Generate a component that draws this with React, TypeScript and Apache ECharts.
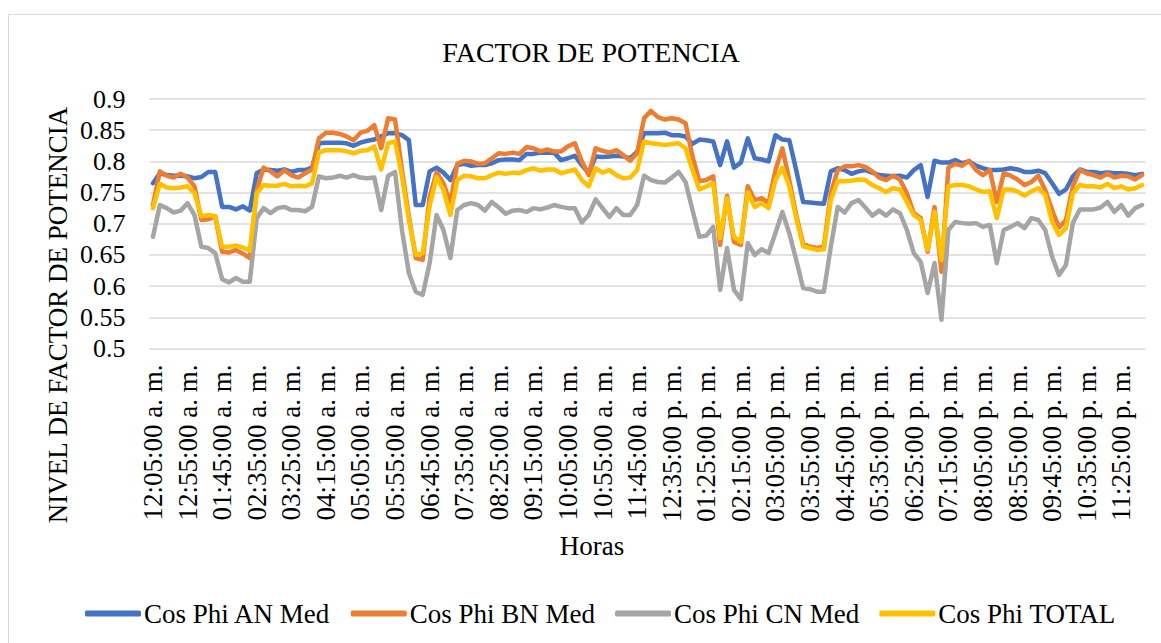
import React, { useEffect, useRef } from "react";
import * as echarts from "echarts";

// 10-minute readings, 12:05 a. m. .. 11:55 p. m.
const hours: string[] = [];
for (let i = 0; i < 144; i++) {
  const t = 5 + i * 10;
  const h = Math.floor(t / 60);
  const m = t % 60;
  const h12 = h % 12 === 0 ? 12 : h % 12;
  const pad = (n: number) => (n < 10 ? "0" + n : "" + n);
  hours.push(`${pad(h12)}:${pad(m)}:00 ${h < 12 ? "a. m." : "p. m."}`);
}

const cosPhiAN = [
  0.765, 0.781, 0.778, 0.777, 0.777, 0.776, 0.773, 0.775, 0.783, 0.783,
  0.727, 0.727, 0.723, 0.728, 0.721, 0.781, 0.787, 0.786, 0.785, 0.787,
  0.783, 0.786, 0.786, 0.79, 0.829, 0.83, 0.83, 0.83, 0.829, 0.825,
  0.83, 0.833, 0.835, 0.84, 0.845, 0.845, 0.842, 0.834, 0.73, 0.73,
  0.784, 0.79, 0.782, 0.77, 0.794, 0.796, 0.793, 0.794, 0.794, 0.797,
  0.802, 0.803, 0.803, 0.802, 0.812, 0.812, 0.814, 0.814, 0.814, 0.802,
  0.805, 0.809, 0.794, 0.781, 0.808, 0.807, 0.808, 0.809, 0.808, 0.805,
  0.815, 0.845, 0.845, 0.845, 0.846, 0.842, 0.842, 0.84, 0.828, 0.835,
  0.834, 0.832, 0.794, 0.832, 0.79, 0.798, 0.837, 0.805, 0.803, 0.8,
  0.842, 0.835, 0.834, 0.786, 0.735, 0.734, 0.733, 0.732, 0.784, 0.789,
  0.786, 0.78, 0.784, 0.786, 0.782, 0.778, 0.777, 0.776, 0.777, 0.774,
  0.786, 0.794, 0.743, 0.801, 0.798, 0.798, 0.802, 0.797, 0.8, 0.793,
  0.789, 0.786, 0.786, 0.787, 0.789, 0.787, 0.783, 0.783, 0.785, 0.781,
  0.765, 0.748, 0.755, 0.776, 0.787, 0.783, 0.783, 0.781, 0.782, 0.781,
  0.781, 0.78, 0.778, 0.78,
];

const cosPhiBN = [
  0.73, 0.784, 0.777, 0.774, 0.78, 0.774, 0.76, 0.706, 0.707, 0.712,
  0.655, 0.654, 0.658, 0.652, 0.645, 0.754, 0.79, 0.784, 0.776, 0.786,
  0.778, 0.774, 0.781, 0.787, 0.837, 0.846, 0.846, 0.844, 0.84, 0.834,
  0.846, 0.849, 0.858, 0.821, 0.869, 0.867, 0.786, 0.712, 0.645, 0.642,
  0.743, 0.782, 0.765, 0.733, 0.796, 0.801, 0.8, 0.796, 0.797, 0.805,
  0.813, 0.812, 0.814, 0.812, 0.823, 0.821, 0.816, 0.819, 0.816, 0.816,
  0.824, 0.829, 0.8, 0.778, 0.821, 0.817, 0.814, 0.818, 0.81, 0.801,
  0.813, 0.869, 0.881, 0.871, 0.867, 0.869, 0.867, 0.861, 0.808, 0.768,
  0.77, 0.776, 0.666, 0.745, 0.671, 0.666, 0.76, 0.738, 0.741, 0.733,
  0.786, 0.821, 0.77, 0.714, 0.668, 0.663, 0.661, 0.663, 0.749, 0.786,
  0.792, 0.792, 0.794, 0.791, 0.784, 0.774, 0.77, 0.777, 0.771, 0.749,
  0.717, 0.709, 0.655, 0.727, 0.623, 0.79, 0.796, 0.793, 0.801, 0.786,
  0.778, 0.786, 0.735, 0.781, 0.777, 0.771, 0.762, 0.767, 0.777, 0.754,
  0.722, 0.694, 0.706, 0.76, 0.786, 0.781, 0.778, 0.774, 0.78, 0.774,
  0.777, 0.776, 0.771, 0.778,
];

const cosPhiCN = [
  0.679, 0.73, 0.725, 0.718, 0.721, 0.733, 0.714, 0.663, 0.661, 0.653,
  0.611, 0.606, 0.613, 0.607, 0.607, 0.709, 0.725, 0.717, 0.725, 0.727,
  0.722, 0.722, 0.72, 0.727, 0.776, 0.773, 0.774, 0.777, 0.774, 0.778,
  0.774, 0.773, 0.774, 0.722, 0.777, 0.783, 0.69, 0.621, 0.591, 0.586,
  0.637, 0.714, 0.69, 0.645, 0.722, 0.73, 0.733, 0.73, 0.721, 0.735,
  0.726, 0.716, 0.721, 0.722, 0.719, 0.725, 0.723, 0.726, 0.73, 0.727,
  0.725, 0.725, 0.702, 0.714, 0.739, 0.725, 0.711, 0.725, 0.714, 0.714,
  0.73, 0.777, 0.77, 0.767, 0.766, 0.774, 0.783, 0.767, 0.722, 0.679,
  0.681, 0.695, 0.594, 0.661, 0.594, 0.579, 0.669, 0.65, 0.659, 0.653,
  0.685, 0.719, 0.685, 0.642, 0.597, 0.595, 0.591, 0.591, 0.663, 0.727,
  0.718, 0.733, 0.738, 0.726, 0.713, 0.721, 0.713, 0.723, 0.717, 0.69,
  0.653, 0.639, 0.589, 0.637, 0.546, 0.69, 0.703, 0.701, 0.7, 0.701,
  0.695, 0.698, 0.637, 0.69, 0.695, 0.701, 0.693, 0.709, 0.706, 0.69,
  0.647, 0.618, 0.634, 0.701, 0.723, 0.723, 0.723, 0.726, 0.735, 0.719,
  0.73, 0.713, 0.725, 0.73,
];

const cosPhiTotal = [
  0.725, 0.764, 0.758, 0.757, 0.758, 0.76, 0.749, 0.712, 0.714, 0.712,
  0.663, 0.663, 0.665, 0.662, 0.657, 0.749, 0.762, 0.761, 0.761, 0.764,
  0.76, 0.761, 0.76, 0.765, 0.814, 0.818, 0.818, 0.818, 0.816, 0.813,
  0.817, 0.818, 0.824, 0.787, 0.829, 0.832, 0.776, 0.706, 0.65, 0.653,
  0.728, 0.775, 0.754, 0.714, 0.77, 0.777, 0.776, 0.773, 0.773, 0.778,
  0.782, 0.78, 0.782, 0.781, 0.786, 0.789, 0.785, 0.787, 0.787, 0.781,
  0.784, 0.787, 0.77, 0.76, 0.789, 0.782, 0.786, 0.778, 0.773, 0.774,
  0.786, 0.832, 0.829, 0.828, 0.826, 0.828, 0.829, 0.821, 0.786, 0.755,
  0.76, 0.765, 0.677, 0.741, 0.679, 0.671, 0.751, 0.727, 0.733, 0.725,
  0.77, 0.79, 0.76, 0.709, 0.664, 0.661, 0.658, 0.659, 0.738, 0.768,
  0.768, 0.769, 0.771, 0.77, 0.762, 0.757, 0.751, 0.757, 0.755, 0.735,
  0.714, 0.706, 0.658, 0.719, 0.642, 0.76, 0.762, 0.762, 0.76, 0.755,
  0.751, 0.752, 0.709, 0.755, 0.755, 0.752, 0.745, 0.752, 0.757, 0.746,
  0.703, 0.682, 0.693, 0.749, 0.762, 0.76, 0.76, 0.758, 0.764, 0.757,
  0.76, 0.755, 0.757, 0.762,
];

const seriesNames = ["Cos Phi AN Med", "Cos Phi BN Med", "Cos Phi CN Med", "Cos Phi TOTAL"];
const seriesColors = ["#4472C4", "#ED7D31", "#A5A5A5", "#FFC000"];
const seriesData = [cosPhiAN, cosPhiBN, cosPhiCN, cosPhiTotal];

const FONT = '"Liberation Serif", "Times New Roman", serif';

export default function App() {
  const ref = useRef<HTMLDivElement>(null);
  useEffect(() => {
    if (!ref.current) return;
    const chart = echarts.init(ref.current, undefined, { renderer: "svg" });
    chart.setOption({
      animation: false,
      backgroundColor: "#ffffff",
      textStyle: { fontFamily: FONT },
      grid: { left: 149.5, right: 15.5, top: 99, bottom: 294.5, containLabel: false },
      graphic: [
        {
          type: "rect",
          shape: { x: 8.5, y: 14.5, width: 1300, height: 700 },
          style: { fill: "none", stroke: "#d9d9d9", lineWidth: 1 },
          silent: true,
        },
        {
          type: "text",
          x: 591,
          y: 52,
          style: { text: "FACTOR DE POTENCIA", fontFamily: FONT, fontSize: 28, fill: "#000", textAlign: "center", textVerticalAlign: "middle" },
        },
        {
          type: "text",
          x: 592,
          y: 546,
          style: { text: "Horas", fontFamily: FONT, fontSize: 27, fill: "#000", textAlign: "center", textVerticalAlign: "middle" },
        },
        {
          type: "text",
          x: 58,
          y: 315,
          rotation: Math.PI / 2,
          style: { text: "NIVEL DE FACTOR DE POTENCIA", fontFamily: FONT, fontSize: 27, fill: "#000", textAlign: "center", textVerticalAlign: "middle" },
        },
      ],
      legend: {
        left: 85,
        top: 600,
        padding: 0,
        itemWidth: 56,
        itemHeight: 6,
        itemGap: 20,
        icon: "roundRect",
        textStyle: { fontFamily: FONT, fontSize: 27, color: "#000", padding: [0, 0, 0, -2] },
        data: seriesNames,
      },
      xAxis: {
        type: "category",
        data: hours,
        boundaryGap: true,
        axisLine: { show: false },
        axisTick: { show: false },
        axisLabel: { interval: 4, rotate: 90, margin: 16, fontFamily: FONT, fontSize: 27, color: "#000" },
      },
      yAxis: {
        type: "value",
        min: 0.5,
        max: 0.9,
        interval: 0.05,
        axisLine: { show: false },
        axisTick: { show: false },
        axisLabel: { margin: 24, fontFamily: FONT, fontSize: 26, color: "#000" },
        splitLine: { lineStyle: { color: "#d9d9d9", width: 1.5 } },
      },
      series: seriesNames.map((name, k) => ({
        name,
        type: "line",
        data: seriesData[k],
        symbol: "none",
        color: seriesColors[k],
        lineStyle: { width: 4.5, color: seriesColors[k], cap: "round", join: "round" },
      })),
    });
    return () => chart.dispose();
  }, []);
  return <div ref={ref} style={{ position: "fixed", left: 0, top: 0, width: 1161, height: 643 }} />;
}
